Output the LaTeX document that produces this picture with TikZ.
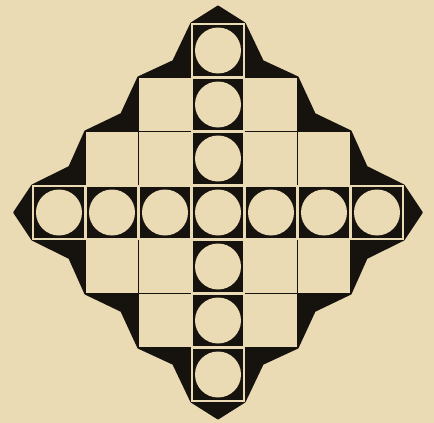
\documentclass[tikz,border=0pt]{standalone}
\definecolor{paper}{RGB}{235,219,181}
\definecolor{ink}{RGB}{22,18,14}
\tikzset{
  board/.style={fill=ink, draw=ink, line width=2.4pt, line join=round},
  emptycell/.style={fill=paper},
  pegframe/.style={draw=paper, line width=1.1pt},
  peghole/.style={fill=paper}
}
\begin{document}
\begin{tikzpicture}[x=53pt,y=-54pt]
\fill[paper] (-4.1132,-3.9352) rectangle (4.0755,3.8981);
\useasboundingbox (-4.1132,-3.9352) rectangle (4.0755,3.8981);
% black board outline
\path[board]
  (0,-3.81) -- (0.5,-3.5) -- (0.84,-2.8) -- (1.5,-2.5) -- (1.82,-1.82) -- (2.5,-1.5) -- (2.8,-0.84) -- (3.5,-0.5)
  -- (3.84,0) -- (3.5,0.5) -- (2.8,0.84) -- (2.5,1.5) -- (1.82,1.82) -- (1.5,2.5) -- (0.84,2.8) -- (0.5,3.5)
  -- (0,3.81) -- (-0.5,3.5) -- (-0.84,2.8) -- (-1.5,2.5) -- (-1.82,1.82) -- (-2.5,1.5) -- (-2.8,0.84) -- (-3.5,0.5)
  -- (-3.84,0) -- (-3.5,-0.5) -- (-2.8,-0.84) -- (-2.5,-1.5) -- (-1.82,-1.82) -- (-1.5,-2.5) -- (-0.84,-2.8) -- (-0.5,-3.5)
  -- cycle;
% empty squares
\foreach \i/\j in {-1/-2,1/-2,-1/2,1/2,-2/-1,-1/-1,1/-1,2/-1,-2/1,-1/1,1/1,2/1}
  \fill[emptycell] (\i-0.482,\j-0.482) rectangle (\i+0.482,\j+0.482);
% squares with holes
\foreach \i/\j in {0/-3,0/-2,0/-1,0/0,0/1,0/2,0/3,-3/0,-2/0,-1/0,1/0,2/0,3/0}{
  \draw[pegframe] (\i-0.49,\j-0.49) rectangle (\i+0.49,\j+0.49);
  \fill[peghole] (\i,\j) circle[radius=23pt];
}
\end{tikzpicture}
\end{document}
